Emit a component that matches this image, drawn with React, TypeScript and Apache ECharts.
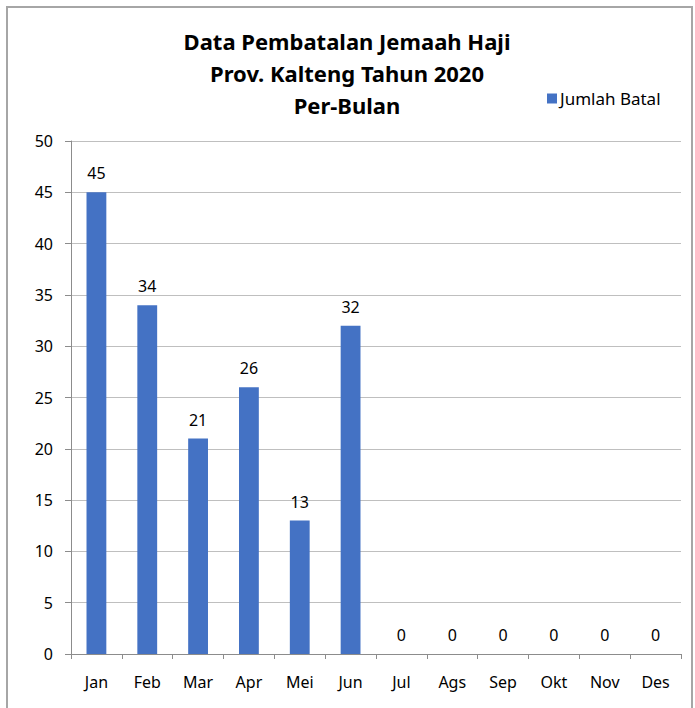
import React, { useEffect, useRef } from "react";
import * as echarts from "echarts";

const titleLines = ["Data Pembatalan Jemaah Haji", "Prov. Kalteng Tahun 2020", "Per-Bulan"];
const seriesName = "Jumlah Batal";
const months = ["Jan", "Feb", "Mar", "Apr", "Mei", "Jun", "Jul", "Ags", "Sep", "Okt", "Nov", "Des"];
const jumlahBatal = [45, 34, 21, 26, 13, 32, 0, 0, 0, 0, 0, 0];
const yMin = 0;
const yMax = 50;
const yStep = 5;

const FONT = "'Noto Sans', 'Open Sans', sans-serif";
const LBL = 16;

export default function App() {
  const ref = useRef<HTMLDivElement>(null);
  useEffect(() => {
    if (!ref.current) return;
    const chart = echarts.init(ref.current, null, { renderer: "svg" });
    chart.setOption({
      animation: false,
      backgroundColor: "#ffffff",
      textStyle: { fontFamily: FONT },
      title: {
        text: titleLines.join("\n"),
        left: 342,
        textAlign: "center",
        top: 20,
        textStyle: { fontFamily: FONT, fontWeight: "bold", fontSize: 22, lineHeight: 32, color: "#000" },
      },
      legend: {
        data: [seriesName],
        left: 542,
        top: 85,
        itemWidth: 10,
        itemHeight: 10,
        itemGap: 6,
        icon: "rect",
        textStyle: { fontFamily: FONT, fontSize: 17, color: "#000", padding: [0, 0, 0, -2] },
      },
      graphic: [
        {
          type: "rect",
          shape: { x: 7, y: 7, width: 685, height: 720 },
          style: { fill: "none", stroke: "#a6a6a6", lineWidth: 2 },
          silent: true,
        },
      ],
      grid: { left: 71, right: 14, top: 141, bottom: 54, containLabel: false },
      xAxis: {
        type: "category",
        data: months,
        axisLine: { lineStyle: { color: "#8c8c8c", width: 1 } },
        axisTick: { show: true, alignWithLabel: false, length: 5, lineStyle: { color: "#8c8c8c" } },
        axisLabel: { margin: 20, fontSize: LBL, color: "#000", fontFamily: FONT },
        splitLine: { show: false },
      },
      yAxis: {
        type: "value",
        min: yMin,
        max: yMax,
        interval: yStep,
        axisLine: { show: true, lineStyle: { color: "#8c8c8c", width: 1 } },
        axisTick: { show: true, length: 6, lineStyle: { color: "#8c8c8c" } },
        axisLabel: { margin: 18, fontSize: LBL, color: "#000", fontFamily: FONT },
        splitLine: { show: true, lineStyle: { color: "#bfbfbf", width: 1 } },
      },
      series: [
        {
          name: seriesName,
          type: "bar",
          data: jumlahBatal,
          barWidth: "39%",
          itemStyle: { color: "#4472c4" },
          label: {
            show: true,
            position: "top",
            distance: 11,
            fontSize: LBL,
            color: "#000",
            fontFamily: FONT,
          },
        },
      ],
    });
    return () => chart.dispose();
  }, []);
  return (
    <div
      ref={ref}
      style={{ position: "fixed", left: 0, top: 0, width: 695, height: 708 }}
    />
  );
}
